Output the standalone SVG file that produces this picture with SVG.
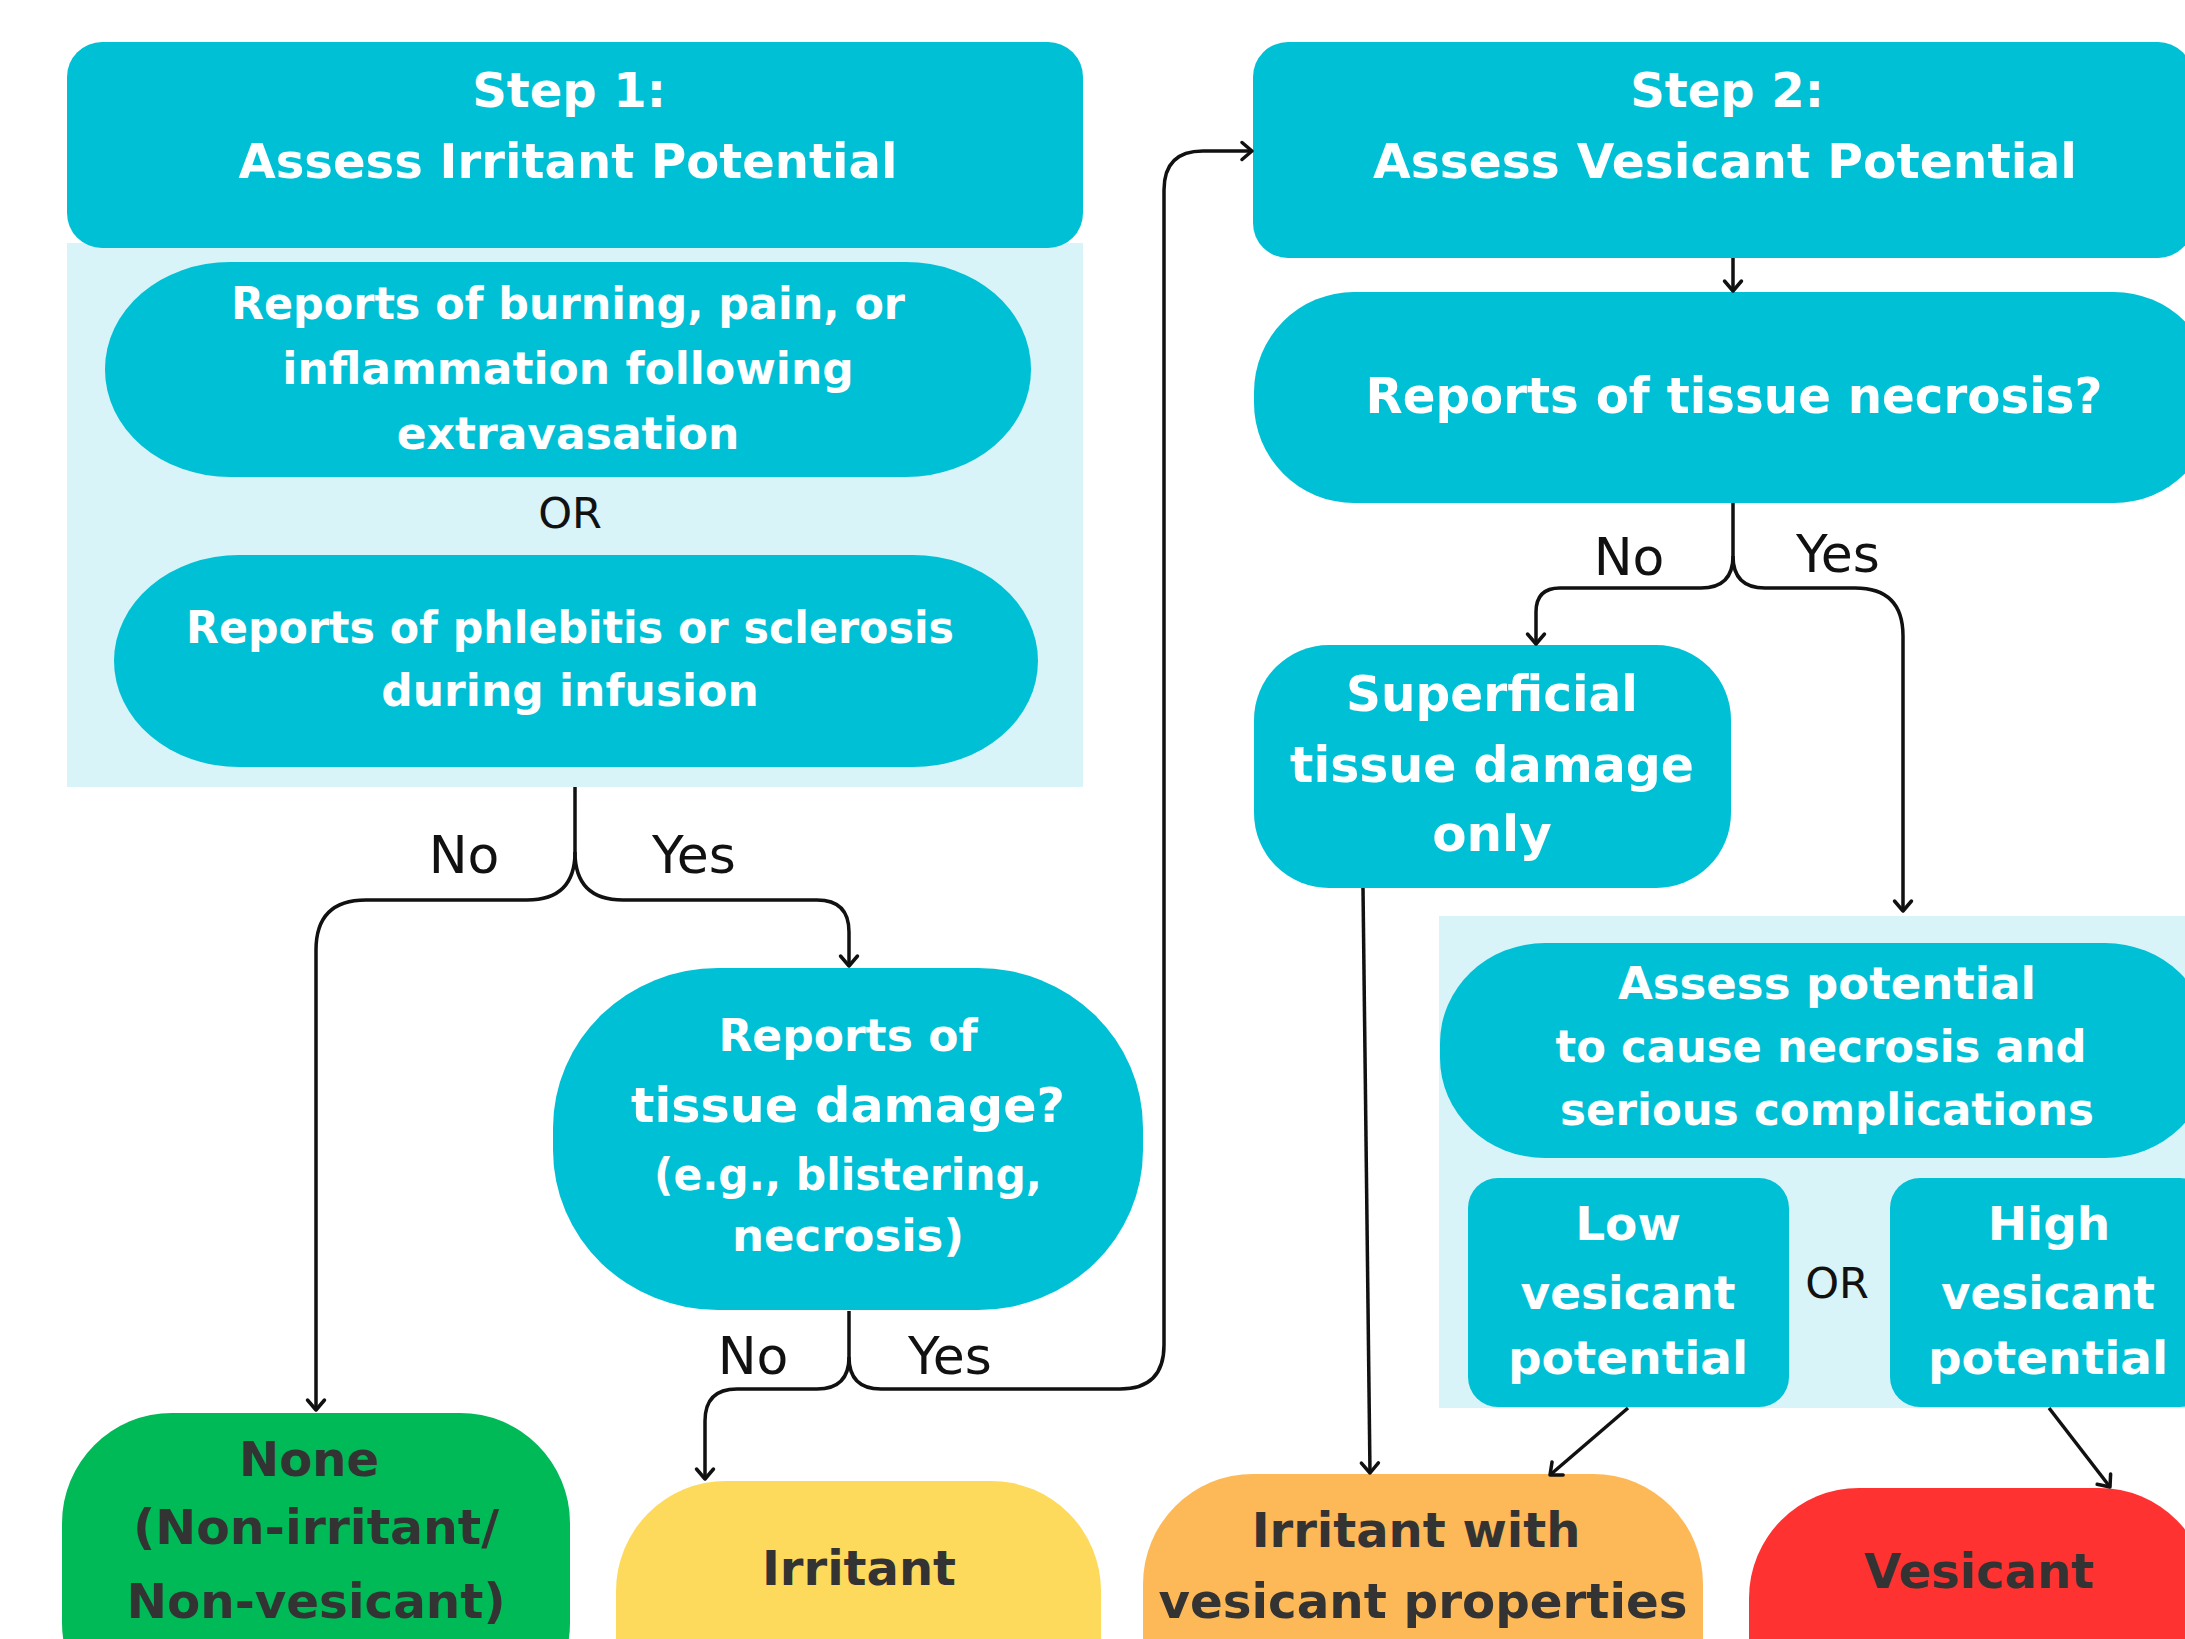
<svg xmlns="http://www.w3.org/2000/svg" width="2185" height="1639" viewBox="0 0 2185 1639">
<style>
.teal{fill:#00C0D6}
.panel{fill:#D8F4F8}
.wt{font-family:"DejaVu Sans","Liberation Sans",sans-serif;font-weight:700;fill:#FFFFFF;text-anchor:middle}
.dk{font-family:"DejaVu Sans","Liberation Sans",sans-serif;font-weight:700;fill:#333333;text-anchor:middle}
.lb{font-family:"DejaVu Sans","Liberation Sans",sans-serif;font-weight:400;fill:#111111;text-anchor:middle}
.cn{fill:none;stroke:#111111;stroke-width:3.5;stroke-linejoin:round}
.ar{marker-end:url(#arr)}
</style>
<defs>
<marker id="arr" markerUnits="userSpaceOnUse" viewBox="-14 -12 18 24" refX="0" refY="0" markerWidth="18" markerHeight="24" orient="auto">
<path d="M-10,-8.5 L0,0 L-10,8.5" fill="none" stroke="#111111" stroke-width="3.5" stroke-linecap="round" stroke-linejoin="round"/>
</marker>
</defs>
<rect width="2185" height="1639" fill="#FFFFFF"/>

<g id="step1">
<rect class="panel" x="67" y="243" width="1016" height="544"/>
<rect class="teal" x="67" y="42" width="1016" height="206" rx="35"/>
<text class="wt" x="569" y="107" font-size="48">Step 1:</text>
<text class="wt" x="568" y="178" font-size="48" textLength="659" lengthAdjust="spacingAndGlyphs">Assess Irritant Potential</text>
</g>
<g id="burning">
<rect class="teal" x="105" y="262" width="926" height="215" rx="125" ry="107"/>
<text class="wt" x="568" y="319" font-size="44" textLength="674" lengthAdjust="spacingAndGlyphs">Reports of burning, pain, or</text>
<text class="wt" x="568" y="384" font-size="44">inflammation following</text>
<text class="wt" x="568" y="449" font-size="44">extravasation</text>
</g>
<text class="lb" x="570" y="528" font-size="43">OR</text>
<g id="phlebitis">
<rect class="teal" x="114" y="555" width="924" height="212" rx="125" ry="106"/>
<text class="wt" x="570" y="643" font-size="44" textLength="768" lengthAdjust="spacingAndGlyphs">Reports of phlebitis or sclerosis</text>
<text class="wt" x="570" y="706" font-size="44">during infusion</text>
</g>
<g id="tissue">
<rect class="teal" x="553" y="968" width="590" height="342" rx="165" ry="160"/>
<text class="wt" x="848" y="1051" font-size="44">Reports of</text>
<text class="wt" x="848" y="1122" font-size="48" textLength="434" lengthAdjust="spacingAndGlyphs">tissue damage?</text>
<text class="wt" x="848" y="1190" font-size="44" textLength="388" lengthAdjust="spacingAndGlyphs">(e.g., blistering,</text>
<text class="wt" x="848" y="1251" font-size="45">necrosis)</text>
</g>

<g id="step2">
<rect class="teal" x="1253" y="42" width="940" height="216" rx="35"/>
<text class="wt" x="1727" y="107" font-size="48">Step 2:</text>
<text class="wt" x="1725" y="178" font-size="48" textLength="704" lengthAdjust="spacingAndGlyphs">Assess Vesicant Potential</text>
</g>
<g id="necrosis">
<rect class="teal" x="1254" y="292" width="960" height="211" rx="100" ry="100"/>
<text class="wt" x="1734" y="413" font-size="49" textLength="737" lengthAdjust="spacingAndGlyphs">Reports of tissue necrosis?</text>
</g>
<g id="superficial">
<rect class="teal" x="1254" y="645" width="477" height="243" rx="75"/>
<text class="wt" x="1492" y="711" font-size="50" textLength="292" lengthAdjust="spacingAndGlyphs">Superficial</text>
<text class="wt" x="1492" y="782" font-size="50" textLength="404" lengthAdjust="spacingAndGlyphs">tissue damage</text>
<text class="wt" x="1492" y="851" font-size="50">only</text>
</g>
<g id="assess">
<rect class="panel" x="1439" y="916" width="760" height="492"/>
<rect class="teal" x="1440" y="943" width="770" height="215" rx="105" ry="100"/>
<text class="wt" x="1827" y="999" font-size="45">Assess potential</text>
<text class="wt" x="1821" y="1062" font-size="45" textLength="531" lengthAdjust="spacingAndGlyphs">to cause necrosis and</text>
<text class="wt" x="1827" y="1125" font-size="45" textLength="534" lengthAdjust="spacingAndGlyphs">serious complications</text>
</g>
<g id="low">
<rect class="teal" x="1468" y="1178" width="321" height="229" rx="30"/>
<text class="wt" x="1628" y="1240" font-size="47">Low</text>
<text class="wt" x="1628" y="1309" font-size="47" textLength="215" lengthAdjust="spacingAndGlyphs">vesicant</text>
<text class="wt" x="1628" y="1374" font-size="47">potential</text>
</g>
<text class="lb" x="1837" y="1298" font-size="43">OR</text>
<g id="high">
<rect class="teal" x="1890" y="1178" width="320" height="229" rx="30"/>
<text class="wt" x="2049" y="1240" font-size="47">High</text>
<text class="wt" x="2048" y="1309" font-size="47" textLength="214" lengthAdjust="spacingAndGlyphs">vesicant</text>
<text class="wt" x="2048" y="1374" font-size="47">potential</text>
</g>

<g id="none">
<rect x="62" y="1413" width="508" height="320" rx="110" fill="#00B957"/>
<text class="dk" x="309" y="1476" font-size="48">None</text>
<text class="dk" x="316" y="1544" font-size="48" textLength="366" lengthAdjust="spacingAndGlyphs">(Non-irritant/</text>
<text class="dk" x="316" y="1618" font-size="48" textLength="379" lengthAdjust="spacingAndGlyphs">Non-vesicant)</text>
</g>
<g id="irritant">
<rect x="616" y="1481" width="485" height="320" rx="110" fill="#FDDA5B"/>
<text class="dk" x="859" y="1585" font-size="48">Irritant</text>
</g>
<g id="irritant-vesicant">
<rect x="1143" y="1474" width="560" height="320" rx="110" fill="#FDB958"/>
<text class="dk" x="1416" y="1547" font-size="48">Irritant with</text>
<text class="dk" x="1423" y="1618" font-size="48" textLength="529" lengthAdjust="spacingAndGlyphs">vesicant properties</text>
</g>
<g id="vesicant">
<rect x="1749" y="1488" width="460" height="320" rx="110" fill="#FF3232"/>
<text class="dk" x="1979" y="1588" font-size="48">Vesicant</text>
</g>

<g id="connectors">
<path class="cn" d="M575,787 V852"/>
<path class="cn ar" d="M575,852 Q575,900 527,900 H366 Q316,900 316,950 V1410"/>
<path class="cn ar" d="M575,852 Q575,900 623,900 H817 Q849,900 849,932 V966"/>
<path class="cn" d="M849,1311 V1357"/>
<path class="cn ar" d="M849,1357 Q849,1389 817,1389 H737 Q705,1389 705,1421 V1479"/>
<path class="cn ar" d="M849,1357 Q849,1389 881,1389 H1120 Q1164,1389 1164,1345 V190 Q1164,151 1203,151 H1252"/>
<path class="cn ar" d="M1733,258 V291"/>
<path class="cn" d="M1733,503 V556"/>
<path class="cn ar" d="M1733,556 Q1733,588 1701,588 H1560 Q1536,588 1536,612 V644"/>
<path class="cn ar" d="M1733,556 Q1733,588 1765,588 H1855 Q1903,588 1903,636 V911"/>
<path class="cn ar" d="M1363,888 L1370,1473"/>
<path class="cn ar" d="M1628,1408 L1550,1475"/>
<path class="cn ar" d="M2049,1408 L2110,1487"/>
<text class="lb" x="464" y="873" font-size="52">No</text>
<text class="lb" x="694" y="873" font-size="52">Yes</text>
<text class="lb" x="753" y="1374" font-size="52">No</text>
<text class="lb" x="950" y="1374" font-size="52">Yes</text>
<text class="lb" x="1629" y="575" font-size="52">No</text>
<text class="lb" x="1838" y="572" font-size="52">Yes</text>
</g>
</svg>
